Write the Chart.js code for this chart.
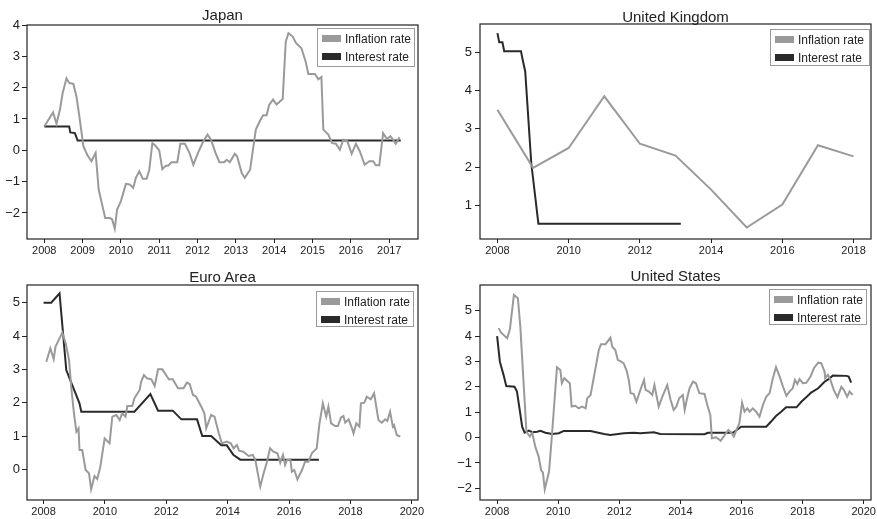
<!DOCTYPE html>
<html><head><meta charset="utf-8">
<script src="https://cdn.jsdelivr.net/npm/chart.js@4"></script>
<style>
body{margin:0;width:877px;height:519px;background:#fff;position:relative;overflow:hidden;font-family:"Liberation Sans",Arial,Helvetica,sans-serif;color:#222}
canvas{position:absolute}
.title{position:absolute;font-size:15px;line-height:15px;white-space:nowrap;transform:translateX(-50%);color:#222}
.legend{position:absolute;border:1px solid #9a9a9a;background:#fff;box-sizing:border-box;font-size:12px;color:#222}
.row{position:absolute;left:4px;height:14px;line-height:14px;white-space:nowrap}
.sw{display:inline-block;width:19px;height:7px;vertical-align:middle;margin-right:4px;position:relative;top:-1px}
</style>
</head><body>
<canvas id="c0"></canvas><canvas id="c1"></canvas><canvas id="c2"></canvas><canvas id="c3"></canvas>
<script>
// ---------- DATA ([year, value]) ----------
const seriesNames = ["Inflation rate", "Interest rate"];
const panelTitles = ["Japan", "United Kingdom", "Euro Area", "United States"];

const japanInflation = [[2008.0,0.76],[2008.23,1.21],[2008.32,0.85],[2008.41,1.3],[2008.48,1.83],[2008.58,2.3],[2008.65,2.15],[2008.76,2.12],[2008.84,1.72],[2008.91,1.14],[2009.02,0.13],[2009.12,-0.14],[2009.23,-0.35],[2009.34,-0.08],[2009.42,-1.25],[2009.5,-1.68],[2009.59,-2.16],[2009.71,-2.16],[2009.77,-2.2],[2009.84,-2.5],[2009.9,-1.89],[2010.0,-1.62],[2010.13,-1.07],[2010.23,-1.09],[2010.32,-1.2],[2010.39,-0.88],[2010.48,-0.67],[2010.57,-0.91],[2010.67,-0.91],[2010.74,-0.62],[2010.82,0.23],[2010.89,0.16],[2011.0,0.0],[2011.08,-0.6],[2011.17,-0.49],[2011.23,-0.49],[2011.32,-0.38],[2011.47,-0.38],[2011.55,0.21],[2011.67,0.21],[2011.79,-0.09],[2011.89,-0.46],[2012.02,-0.06],[2012.15,0.29],[2012.26,0.5],[2012.35,0.34],[2012.47,-0.09],[2012.57,-0.38],[2012.69,-0.38],[2012.76,-0.3],[2012.84,-0.38],[2012.97,-0.11],[2013.03,-0.19],[2013.15,-0.72],[2013.23,-0.88],[2013.37,-0.62],[2013.52,0.66],[2013.63,0.95],[2013.71,1.12],[2013.8,1.12],[2013.87,1.46],[2013.97,1.62],[2014.06,1.46],[2014.22,1.64],[2014.3,3.47],[2014.37,3.74],[2014.48,3.63],[2014.57,3.42],[2014.71,3.26],[2014.82,2.83],[2014.89,2.44],[2015.06,2.44],[2015.15,2.27],[2015.23,2.34],[2015.28,0.66],[2015.41,0.5],[2015.51,0.23],[2015.61,0.21],[2015.71,0.02],[2015.8,0.34],[2015.9,0.32],[2016.02,-0.11],[2016.13,0.21],[2016.23,-0.03],[2016.36,-0.46],[2016.48,-0.35],[2016.58,-0.35],[2016.65,-0.48],[2016.74,-0.48],[2016.84,0.55],[2016.94,0.36],[2017.03,0.45],[2017.1,0.34],[2017.17,0.21],[2017.27,0.42]];
const japanInterest = [[2008.0,0.76],[2008.65,0.76],[2008.68,0.57],[2008.8,0.55],[2008.87,0.31],[2017.3,0.31]];

const ukInflation = [[2008,3.5],[2009,1.98],[2010,2.5],[2011,3.85],[2012,2.61],[2013,2.3],[2014,1.41],[2015,0.42],[2016,1.02],[2017,2.57],[2018,2.28]];
const ukInterest = [[2008.0,5.5],[2008.05,5.26],[2008.14,5.26],[2008.19,5.03],[2008.66,5.03],[2008.71,4.8],[2008.78,4.5],[2008.95,2.1],[2009.15,0.52],[2013.15,0.52]];

const euroInflation = [[2008.09,3.23],[2008.22,3.63],[2008.33,3.31],[2008.39,3.68],[2008.61,4.1],[2008.72,3.78],[2008.83,3.28],[2008.9,2.48],[2008.99,1.68],[2009.07,1.13],[2009.14,1.23],[2009.17,0.58],[2009.26,0.58],[2009.37,-0.02],[2009.48,-0.12],[2009.55,-0.6],[2009.66,-0.2],[2009.75,-0.29],[2009.85,0.08],[2009.99,0.93],[2010.15,0.78],[2010.24,1.58],[2010.37,1.63],[2010.48,1.48],[2010.56,1.68],[2010.67,1.58],[2010.73,1.9],[2010.89,1.9],[2010.96,2.13],[2011.13,2.38],[2011.18,2.63],[2011.27,2.83],[2011.37,2.73],[2011.51,2.7],[2011.62,2.5],[2011.73,3.0],[2011.87,3.0],[2012.08,2.7],[2012.21,2.7],[2012.38,2.43],[2012.56,2.43],[2012.67,2.6],[2012.76,2.56],[2012.87,2.23],[2012.97,2.18],[2013.14,1.88],[2013.24,1.68],[2013.3,1.23],[2013.46,1.63],[2013.57,1.58],[2013.71,1.08],[2013.81,0.78],[2013.97,0.83],[2014.1,0.78],[2014.19,0.63],[2014.3,0.73],[2014.37,0.56],[2014.51,0.53],[2014.68,0.4],[2014.82,0.43],[2014.9,0.28],[2015.06,-0.52],[2015.17,-0.12],[2015.28,0.23],[2015.38,0.63],[2015.49,0.53],[2015.62,0.48],[2015.71,0.2],[2015.8,0.43],[2015.87,0.13],[2015.93,0.28],[2016.04,0.3],[2016.09,-0.07],[2016.17,-0.02],[2016.27,-0.3],[2016.42,-0.02],[2016.52,0.23],[2016.63,0.23],[2016.74,0.48],[2016.9,0.63],[2016.99,1.38],[2017.1,1.98],[2017.21,1.58],[2017.28,1.88],[2017.37,1.38],[2017.5,1.3],[2017.59,1.3],[2017.69,1.56],[2017.77,1.6],[2017.83,1.4],[2017.94,1.5],[2018.05,1.23],[2018.1,1.08],[2018.19,1.38],[2018.29,1.28],[2018.34,1.98],[2018.45,2.0],[2018.53,2.18],[2018.66,2.1],[2018.77,2.28],[2018.91,1.48],[2019.02,1.4],[2019.13,1.5],[2019.2,1.45],[2019.29,1.73],[2019.38,1.28],[2019.42,1.33],[2019.51,1.03],[2019.62,0.98]];
const euroInterest = [[2008.0,5.0],[2008.25,5.0],[2008.52,5.28],[2008.74,2.98],[2009.17,1.98],[2009.23,1.73],[2010.96,1.73],[2011.48,2.26],[2011.73,1.76],[2012.21,1.76],[2012.49,1.5],[2013.0,1.5],[2013.17,1.0],[2013.46,1.0],[2013.79,0.72],[2013.97,0.72],[2014.19,0.43],[2014.41,0.29],[2016.97,0.29]];

const usInflation = [[2008.05,4.31],[2008.13,4.13],[2008.33,3.91],[2008.42,4.27],[2008.55,5.62],[2008.68,5.49],[2008.76,4.37],[2008.96,0.23],[2009.07,0.04],[2009.15,0.19],[2009.25,-0.36],[2009.36,-0.75],[2009.44,-1.28],[2009.5,-1.38],[2009.56,-2.04],[2009.7,-1.34],[2009.8,0.17],[2009.96,2.77],[2010.07,2.66],[2010.12,2.14],[2010.2,2.34],[2010.38,2.14],[2010.44,1.22],[2010.56,1.25],[2010.67,1.15],[2010.78,1.22],[2010.9,1.15],[2010.95,1.55],[2011.06,1.68],[2011.33,3.45],[2011.4,3.68],[2011.55,3.68],[2011.71,3.94],[2011.77,3.58],[2011.87,3.45],[2011.95,3.06],[2012.06,2.99],[2012.14,2.93],[2012.24,2.64],[2012.31,2.27],[2012.37,1.75],[2012.47,1.72],[2012.56,1.41],[2012.69,1.88],[2012.81,2.27],[2012.86,1.88],[2012.97,1.81],[2013.08,1.68],[2013.15,2.07],[2013.29,1.22],[2013.41,1.61],[2013.57,2.07],[2013.68,1.48],[2013.78,1.09],[2013.87,1.22],[2013.96,1.55],[2014.08,1.68],[2014.14,1.09],[2014.22,1.55],[2014.3,1.94],[2014.41,2.2],[2014.51,2.14],[2014.62,1.75],[2014.79,1.72],[2014.88,1.28],[2014.98,0.89],[2015.03,-0.03],[2015.17,0.01],[2015.32,-0.13],[2015.45,0.1],[2015.57,0.3],[2015.68,0.17],[2015.75,0.04],[2015.86,0.37],[2015.93,0.56],[2016.02,1.38],[2016.1,1.02],[2016.19,1.15],[2016.27,1.02],[2016.37,1.15],[2016.48,1.02],[2016.59,0.82],[2016.7,1.28],[2016.81,1.61],[2016.92,1.75],[2017.02,2.3],[2017.13,2.77],[2017.25,2.4],[2017.36,2.0],[2017.47,1.64],[2017.57,1.81],[2017.68,1.94],[2017.75,2.27],[2017.83,2.11],[2017.9,2.3],[2018.01,2.14],[2018.12,2.16],[2018.26,2.4],[2018.37,2.73],[2018.51,2.95],[2018.61,2.93],[2018.72,2.6],[2018.74,2.34],[2018.83,2.47],[2018.91,2.27],[2019.02,1.88],[2019.14,1.59],[2019.27,2.0],[2019.35,1.88],[2019.46,1.61],[2019.54,1.81],[2019.64,1.68]];
const usInterest = [[2008.0,4.0],[2008.09,2.99],[2008.21,2.47],[2008.3,2.03],[2008.57,2.0],[2008.65,1.81],[2008.74,1.09],[2008.82,0.43],[2008.9,0.19],[2009.04,0.27],[2009.15,0.21],[2009.31,0.23],[2009.42,0.27],[2009.58,0.19],[2009.8,0.14],[2010.02,0.17],[2010.18,0.26],[2011.06,0.26],[2011.5,0.14],[2011.71,0.1],[2012.15,0.17],[2012.47,0.19],[2012.69,0.17],[2013.13,0.21],[2013.34,0.14],[2014.79,0.13],[2014.9,0.19],[2015.72,0.19],[2015.99,0.43],[2016.81,0.43],[2016.97,0.63],[2017.13,0.85],[2017.3,1.02],[2017.46,1.19],[2017.8,1.19],[2017.96,1.41],[2018.12,1.59],[2018.28,1.77],[2018.51,1.94],[2018.72,2.2],[2018.85,2.3],[2018.99,2.44],[2019.43,2.43],[2019.51,2.4],[2019.59,2.16]];

// tick labels
const japanXTicks = [2008,2009,2010,2011,2012,2013,2014,2015,2016,2017];
const japanYTicks = [-2,-1,0,1,2,3,4];
const ukXTicks = [2008,2010,2012,2014,2016,2018];
const ukYTicks = [1,2,3,4,5];
const euroXTicks = [2008,2010,2012,2014,2016,2018,2020];
const euroYTicks = [0,1,2,3,4,5];
const usXTicks = [2008,2010,2012,2014,2016,2018,2020];
const usYTicks = [-2,-1,0,1,2,3,4,5];

// ---------- LAYOUT ----------
const INFL_COLOR = '#9a9a9a', RATE_COLOR = '#2a2a2a', INK = '#222';
const panels = [
  {id:'c0', canvas:[0,0,438,258], area:[27,25,418,239], x:[2007.55,2017.75], y:[-2.83,4.0], xt:japanXTicks, yt:japanYTicks, infl:japanInflation, rate:japanInterest, title:panelTitles[0], titleTop:7, legend:[317,28,98,39], ylPad:2},
  {id:'c1', canvas:[438,0,439,258], area:[480,24,871,239], x:[2007.51,2018.49], y:[0.12,5.74], xt:ukXTicks, yt:ukYTicks, infl:ukInflation, rate:ukInterest, title:panelTitles[1], titleTop:9, legend:[770,29,100,37], ylPad:3},
  {id:'c2', canvas:[0,258,438,261], area:[27,285,418,500], x:[2007.46,2020.2], y:[-0.92,5.53], xt:euroXTicks, yt:euroYTicks, infl:euroInflation, rate:euroInterest, title:panelTitles[2], titleTop:269, legend:[316,291,98,36], ylPad:2},
  {id:'c3', canvas:[438,258,439,261], area:[480,285,871,500], x:[2007.44,2020.24], y:[-2.46,6.01], xt:usXTicks, yt:usYTicks, infl:usInflation, rate:usInterest, title:panelTitles[3], titleTop:268, legend:[769,289,98,36], ylPad:3}
];

const framePlugin = {
  id:'frame',
  afterDraw(chart){
    const a = chart.chartArea, ctx = chart.ctx;
    ctx.save(); ctx.strokeStyle = INK; ctx.lineWidth = 1.2;
    ctx.strokeRect(a.left, a.top, a.right - a.left, a.bottom - a.top);
    ctx.restore();
  }
};

const fmt = v => v < 0 ? '\u2212' + Math.abs(v) : String(v);

panels.forEach(p => {
  const cv = document.getElementById(p.id);
  const [cx, cy, cw, ch] = p.canvas;
  const [L, T, R, B] = p.area;
  cv.style.left = cx + 'px'; cv.style.top = cy + 'px';
  cv.style.width = cw + 'px'; cv.style.height = ch + 'px';
  cv.width = cw; cv.height = ch;
  new Chart(cv, {
    type:'line',
    data:{datasets:[
      {label:seriesNames[0], data:p.infl.map(d=>({x:d[0], y:d[1]})), borderColor:INFL_COLOR, borderWidth:2, pointRadius:0, tension:0, fill:false},
      {label:seriesNames[1], data:p.rate.map(d=>({x:d[0], y:d[1]})), borderColor:RATE_COLOR, borderWidth:2, pointRadius:0, tension:0, fill:false}
    ]},
    options:{
      responsive:false, animation:false, devicePixelRatio:1,
      layout:{padding:{left:0, top:T - cy, right:cx + cw - R, bottom:0}},
      plugins:{legend:{display:false}, tooltip:{enabled:false}, title:{display:false}},
      scales:{
        x:{type:'linear', min:p.x[0], max:p.x[1],
          afterBuildTicks(s){ s.ticks = p.xt.map(v=>({value:v})); },
          afterFit(s){ s.height = cy + ch - B; s.paddingLeft = 0; s.paddingRight = 0; },
          ticks:{autoSkip:false, maxRotation:0, padding:1, color:INK, font:{family:'"Liberation Sans", Arial, sans-serif', size:11}, callback:v=>String(v)},
          grid:{drawOnChartArea:false, drawTicks:true, tickLength:4, color:INK, lineWidth:1},
          border:{display:false}
        },
        y:{type:'linear', min:p.y[0], max:p.y[1],
          afterBuildTicks(s){ s.ticks = p.yt.map(v=>({value:v})); },
          afterFit(s){ s.width = L - cx; s.paddingTop = 0; s.paddingBottom = 0; },
          ticks:{autoSkip:false, padding:p.ylPad, color:INK, font:{family:'"Liberation Sans", Arial, sans-serif', size:13}, callback:v=>fmt(v)},
          grid:{drawOnChartArea:false, drawTicks:true, tickLength:5, color:INK, lineWidth:1},
          border:{display:false}
        }
      }
    },
    plugins:[framePlugin]
  });

  // title (HTML text)
  const t = document.createElement('div');
  t.className = 'title'; t.textContent = p.title;
  t.style.left = ((L + R) / 2) + 'px'; t.style.top = p.titleTop + 'px';
  document.body.appendChild(t);

  // legend (HTML text)
  const [lx, ly, lw, lh] = p.legend;
  const lg = document.createElement('div');
  lg.className = 'legend';
  lg.style.left = lx + 'px'; lg.style.top = ly + 'px'; lg.style.width = lw + 'px'; lg.style.height = lh + 'px';
  [[seriesNames[0], INFL_COLOR], [seriesNames[1], RATE_COLOR]].forEach((it, i) => {
    const r = document.createElement('div');
    r.className = 'row'; r.style.top = (3 + i * 18) + 'px';
    const sw = document.createElement('span'); sw.className = 'sw'; sw.style.background = it[1];
    r.appendChild(sw); r.appendChild(document.createTextNode(it[0]));
    lg.appendChild(r);
  });
  document.body.appendChild(lg);
});
</script>
</body></html>
